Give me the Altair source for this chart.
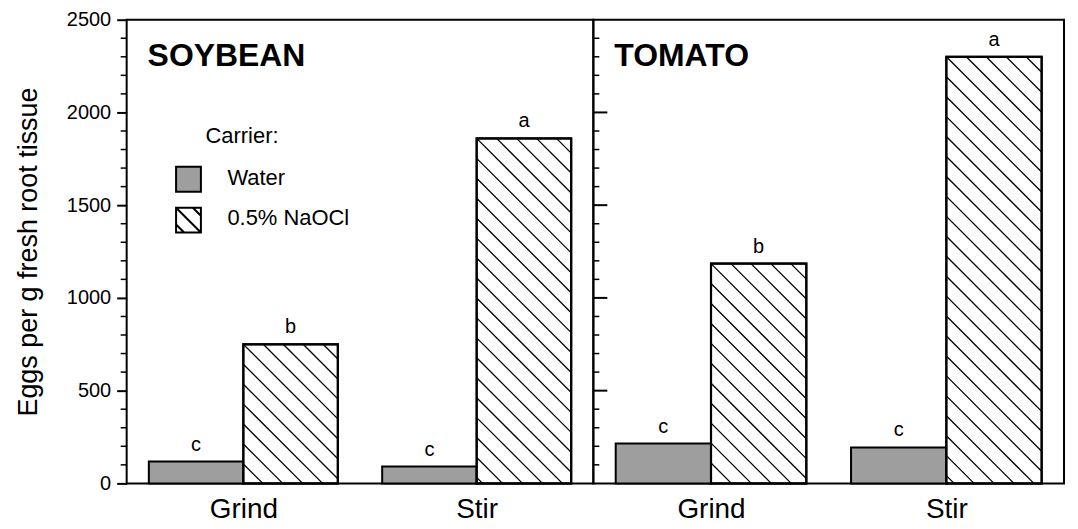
import altair as alt
import pandas as pd

# ---------------- data ----------------
crops = ["SOYBEAN", "TOMATO"]
methods = ["Grind", "Stir"]
carriers = ["Water", "0.5% NaOCl"]
water_values = {"SOYBEAN": [118, 91], "TOMATO": [215, 194]}
naocl_values = {"SOYBEAN": [750, 1860], "TOMATO": [1185, 2300]}
water_letters = {"SOYBEAN": ["c", "c"], "TOMATO": ["c", "c"]}
naocl_letters = {"SOYBEAN": ["b", "a"], "TOMATO": ["b", "a"]}
y_major = [0, 500, 1000, 1500, 2000, 2500]
y_minor = [v for v in range(100, 2500, 100) if v % 500]
legend_title = "Carrier:"
y_title = "Eggs per g fresh root tissue"

# ---------------- style ----------------
FONT = "Liberation Sans"
H = 465
WIDTHS = {"SOYBEAN": 468, "TOMATO": 472}
YMAX = 2500
BAR = 0.405          # half group width, in band units
HATCH = 20           # hatch spacing in px
WATER_FILL = "#9e9e9e"


def bars_df(crop):
    rows = []
    for i, m in enumerate(methods):
        c = i + 0.5
        rows.append(dict(method=m, carrier=carriers[0], x0=c - BAR, x1=c,
                         value=water_values[crop][i], letter=water_letters[crop][i], base=0))
        rows.append(dict(method=m, carrier=carriers[1], x0=c, x1=c + BAR,
                         value=naocl_values[crop][i], letter=naocl_letters[crop][i], base=0))
    df = pd.DataFrame(rows)
    df["xm"] = (df.x0 + df.x1) / 2
    return df


def hatch_df(df, W):
    kx = W / 2.0
    ky = H / YMAX
    segs = []
    for r in df[df.carrier == carriers[1]].itertuples():
        X0, X1, U = r.x0 * kx, r.x1 * kx, r.value * ky
        cs = []
        cc = X0 + U
        while cc > X0 + 1:
            cs.append(cc)
            cc -= HATCH
        cc = X0 + U + HATCH
        while cc < X1 + U - 1:
            cs.append(cc)
            cc += HATCH
        for c in cs:
            if c - U >= X0:
                xa, ua = c - U, U
            else:
                xa, ua = X0, c - X0
            if c <= X1:
                xb, ub = c, 0
            else:
                xb, ub = X1, c - X1
            segs.append(dict(xa=xa / kx, xb=xb / kx, ya=ua / ky, yb=ub / ky))
    return pd.DataFrame(segs)


def panel(crop, first):
    W = WIDTHS[crop]
    df = bars_df(crop)
    hd = hatch_df(df, W)
    xs = alt.Scale(domain=[0, 2], nice=False, zero=False)
    ys = alt.Scale(domain=[0, YMAX], nice=False)
    xaxis = alt.Axis(values=[i + 0.5 for i in range(len(methods))],
                     labelExpr=f"{methods!r}[floor(datum.value)]",
                     ticks=False, domain=False, grid=False, labelFont=FONT,
                     labelFontSize=28, labelPadding=12, labelColor="black",
                     title=None)
    if first:
        yaxis = alt.Axis(values=y_major, format="d", grid=False, tickSize=10,
                         tickWidth=2, tickColor="black", domain=False,
                         labelFont=FONT, labelFontSize=20, labelPadding=6,
                         labelColor="black", title=y_title, titleFont=FONT,
                         titleFontSize=27, titleFontWeight="normal",
                         titleColor="black", titlePadding=24)
    else:
        yaxis = None

    def X(f):
        return alt.X(f, type="quantitative", scale=xs, axis=xaxis)

    def Y(f):
        return alt.Y(f, type="quantitative", scale=ys, axis=yaxis)

    base = alt.Chart(df)
    water = base.transform_filter(alt.datum.carrier == carriers[0]).mark_rect(
        fill=WATER_FILL, stroke="black", strokeWidth=2
    ).encode(x=X("x0"), x2="x1", y=Y("value"), y2="base")
    naocl = base.transform_filter(alt.datum.carrier == carriers[1]).mark_rect(
        fill="white", stroke="black", strokeWidth=2
    ).encode(x=X("x0"), x2="x1", y=Y("value"), y2="base")
    hatch = alt.Chart(hd).mark_rule(color="black", strokeWidth=1.3).encode(
        x=X("xa"), x2="xb", y=Y("ya"), y2="yb")
    naocl_outline = base.transform_filter(alt.datum.carrier == carriers[1]).mark_rect(
        fill=None, stroke="black", strokeWidth=2.2
    ).encode(x=X("x0"), x2="x1", y=Y("value"), y2="base")
    letters = base.mark_text(font=FONT, fontSize=20, dy=-17, color="black").encode(
        x=X("xm"), y=Y("value"), text="letter:N")
    title = alt.Chart(pd.DataFrame({"crop": [crop]})).mark_text(
        font=FONT, fontSize=32, fontWeight="bold", align="left",
        baseline="alphabetic", color="black"
    ).encode(text="crop:N", x=alt.value(21), y=alt.value(46))

    layers = [water, naocl, hatch, naocl_outline, letters, title]

    tick_df = pd.DataFrame({"v": y_minor})
    major_df = pd.DataFrame({"v": [v for v in y_major if 0 < v < YMAX]})
    if first:
        minor = alt.Chart(tick_df).mark_rule(color="black", strokeWidth=1.5).encode(
            y=Y("v"), x=alt.value(-6), x2=alt.value(0))
        layers.append(minor)
        # legend
        leg_title = alt.Chart(pd.DataFrame({"t": [legend_title]})).mark_text(
            font=FONT, fontSize=22, align="left", baseline="middle", color="black"
        ).encode(text="t:N", x=alt.value(79), y=alt.value(117))
        sw_water = alt.Chart(pd.DataFrame({"c": [carriers[0]]})).mark_point(
            shape="square", size=620, filled=True, fill=WATER_FILL, stroke="black",
            strokeWidth=2, opacity=1
        ).encode(x=alt.value(62), y=alt.value(160))
        sw_naocl = alt.Chart(pd.DataFrame({"c": [carriers[1]]})).mark_point(
            shape="M-1,-1H1V1H-1Z M-1,-1L1,1 M0.35,-1L1,-0.35 M-1,0.35L-0.35,1",
            size=620, filled=True, fill="white", stroke="black", strokeWidth=2,
            opacity=1
        ).encode(x=alt.value(62), y=alt.value(201))
        lab_water = alt.Chart(pd.DataFrame({"c": [carriers[0]]})).mark_text(
            font=FONT, fontSize=22, align="left", baseline="middle", color="black"
        ).encode(text="c:N", x=alt.value(101), y=alt.value(159))
        lab_naocl = alt.Chart(pd.DataFrame({"c": [carriers[1]]})).mark_text(
            font=FONT, fontSize=22, align="left", baseline="middle", color="black"
        ).encode(text="c:N", x=alt.value(101), y=alt.value(199))
        layers += [leg_title, sw_water, sw_naocl, lab_water, lab_naocl]
    else:
        minor = alt.Chart(tick_df).mark_rule(color="black", strokeWidth=1.5).encode(
            y=Y("v"), x=alt.value(0), x2=alt.value(6))
        major = alt.Chart(major_df).mark_rule(color="black", strokeWidth=2).encode(
            y=Y("v"), x=alt.value(0), x2=alt.value(14))
        layers += [minor, major]

    return alt.layer(*layers).properties(width=W, height=H)


chart = alt.hconcat(
    panel("SOYBEAN", True), panel("TOMATO", False), spacing=0, bounds="flush"
).configure_view(
    stroke="black", strokeWidth=2
).properties(padding={"left": 5, "top": 0, "right": 5, "bottom": 0})

chart.save("out.html", embed_options={"renderer": "svg", "actions": False})
